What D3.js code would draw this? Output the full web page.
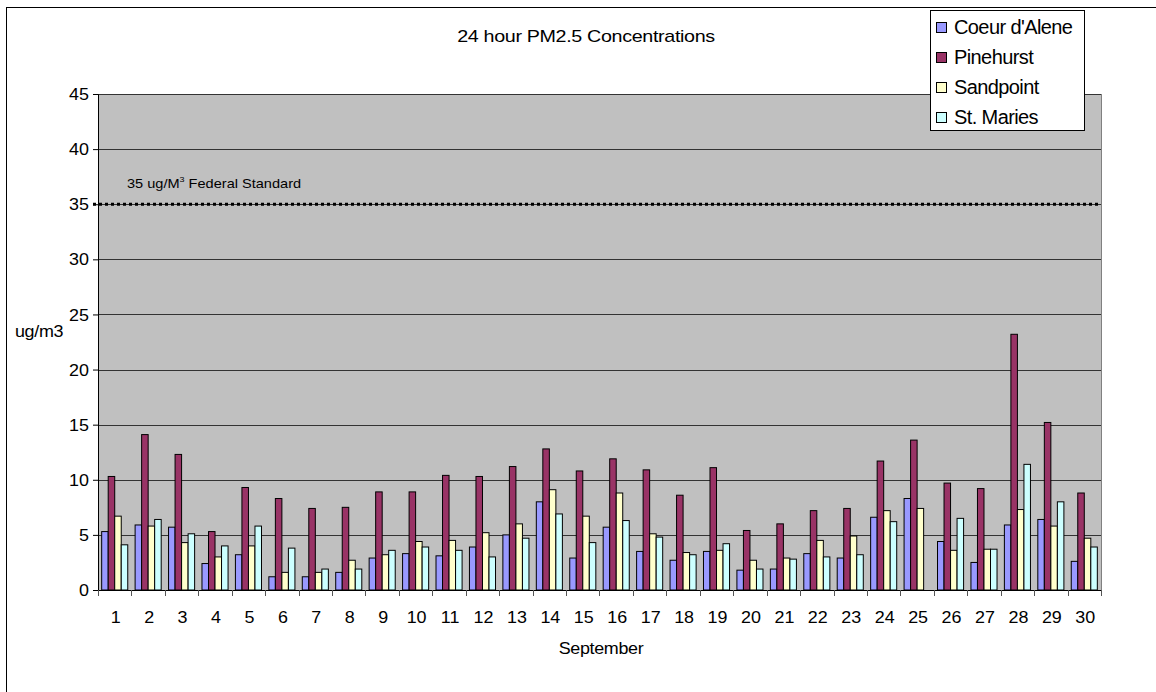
<!DOCTYPE html>
<html>
<head>
<meta charset="utf-8">
<script src="https://cdn.jsdelivr.net/npm/d3@7"></script>
<style>
  body { margin: 0; background: #fff; }
  svg { display: block; font-family: "Liberation Sans", Arial, sans-serif; }
</style>
</head>
<body>
<div id="chart"></div>
<script>
// categories (days of September)
var days = ["1","2","3","4","5","6","7","8","9","10","11","12","13","14","15",
            "16","17","18","19","20","21","22","23","24","25","26","27","28","29","30"];
var seriesNames = ["Coeur d'Alene", "Pinehurst", "Sandpoint", "St. Maries"];
var seriesColors = ["#9999FF", "#993366", "#FFFFCC", "#CCFFFF"];

// 24 hour PM2.5 values, ug/m3
var coeur = [5.3,5.9,5.7,2.4,3.2,1.2,1.2,1.6,2.9,3.3,3.1,3.9,5.0,8.0,2.9,
             5.7,3.5,2.7,3.5,1.8,1.9,3.3,2.9,6.6,8.3,4.4,2.5,5.9,6.4,2.6];
var pinehurst = [10.3,14.1,12.3,5.3,9.3,8.3,7.4,7.5,8.9,8.9,10.4,10.3,11.2,12.8,10.8,
                 11.9,10.9,8.6,11.1,5.4,6.0,7.2,7.4,11.7,13.6,9.7,9.2,23.2,15.2,8.8];
var sandpoint = [6.7,5.8,4.3,3.0,4.0,1.6,1.6,2.7,3.2,4.4,4.5,5.2,6.0,9.1,6.7,
                 8.8,5.1,3.4,3.6,2.7,2.9,4.5,4.9,7.2,7.4,3.6,3.7,7.3,5.8,4.7];
var stmaries = [4.1,6.4,5.1,4.0,5.8,3.8,1.9,1.9,3.6,3.9,3.6,3.0,4.7,6.9,4.3,
                6.3,4.8,3.2,4.2,1.9,2.8,3.0,3.2,6.2,null,6.5,3.7,11.4,8.0,3.9];
var yTicks = [0,5,10,15,20,25,30,35,40,45];
var standard = 35;

var allSeries = [coeur, pinehurst, sandpoint, stmaries];

var W = 1156, H = 692;
var plot = {left: 98, top: 94, right: 1101, bottom: 590};
var w = plot.right - plot.left, h = plot.bottom - plot.top;

var svg = d3.select("#chart").append("svg")
  .attr("width", W).attr("height", H);

// outer chart frame (runs off the picture on right/bottom)
svg.append("rect")
  .attr("x", 6.5).attr("y", 7.5).attr("width", 1200).attr("height", 800)
  .attr("fill", "#fff").attr("stroke", "#000").attr("stroke-width", 1);

var x0 = d3.scaleBand().domain(days).range([0, w]).paddingInner(0.22).paddingOuter(0.11);
var x1 = d3.scaleBand().domain(d3.range(seriesNames.length)).range([0, x0.bandwidth()]);
var y = d3.scaleLinear().domain([0, 45]).range([h, 0]);

var g = svg.append("g").attr("transform", "translate(" + plot.left + "," + plot.top + ")");

// plot area
g.append("rect").attr("width", w).attr("height", h).attr("fill", "#C0C0C0");

// gridlines
g.selectAll(".grid").data(yTicks.filter(function(d){ return d > 0; }))
  .enter().append("line")
  .attr("x1", 0).attr("x2", w)
  .attr("y1", function(d){ return Math.round(y(d)) + 0.5; })
  .attr("y2", function(d){ return Math.round(y(d)) + 0.5; })
  .attr("stroke", "#333").attr("stroke-width", 1);

// right border
g.append("line").attr("x1", w + 0.5).attr("x2", w + 0.5).attr("y1", 0).attr("y2", h)
  .attr("stroke", "#808080");

// bars
var groups = g.selectAll(".day").data(days).enter().append("g")
  .attr("transform", function(d){ return "translate(" + x0(d) + ",0)"; });

groups.selectAll("rect")
  .data(function(d, i){
    return allSeries.map(function(s, k){ return {k: k, v: s[i]}; })
      .filter(function(o){ return o.v != null; });
  })
  .enter().append("rect")
  .attr("x", function(d){ return x1(d.k); })
  .attr("width", x1.bandwidth())
  .attr("y", function(d){ return y(d.v); })
  .attr("height", function(d){ return h - y(d.v); })
  .attr("fill", function(d){ return seriesColors[d.k]; })
  .attr("stroke", "#000").attr("stroke-width", 1);

// federal standard line
g.append("line")
  .attr("x1", -5).attr("x2", w)
  .attr("y1", y(standard)).attr("y2", y(standard))
  .attr("stroke", "#000").attr("stroke-width", 3)
  .attr("stroke-dasharray", "3,3");

var stdLabel = g.append("text")
  .attr("transform", "translate(29," + (y(standard) - 16) + ") scale(1.12,1)")
  .attr("font-size", 13);
stdLabel.append("tspan").text("35 ug/M");
stdLabel.append("tspan").attr("font-size", 8).attr("dy", -6).text("3");
stdLabel.append("tspan").attr("dy", 6).text("  Federal Standard");

// y axis
var yAxis = d3.axisLeft(y).tickValues(yTicks).tickSize(5).tickPadding(4);
var ya = g.append("g").call(yAxis);
ya.select(".domain").attr("stroke", "#000");
ya.selectAll(".tick line").attr("stroke", "#000");
ya.selectAll(".tick text")
  .attr("font-size", 16).attr("font-family", "Liberation Sans, Arial, sans-serif")
  .attr("fill", "#000").attr("dy", "0.35em")
  .attr("transform", "scale(1.12,1)").attr("x", -9 / 1.12);

// x axis: ticks between categories
var xa = g.append("g").attr("transform", "translate(0," + h + ")");
xa.append("line").attr("x1", 0).attr("x2", w).attr("y1", 0.5).attr("y2", 0.5).attr("stroke", "#000");
var step = x0.step();
xa.selectAll(".xt").data(d3.range(days.length + 1)).enter().append("line")
  .attr("x1", function(i){ return Math.round(i * step) + 0.5; })
  .attr("x2", function(i){ return Math.round(i * step) + 0.5; })
  .attr("y1", 0).attr("y2", 6).attr("stroke", "#555");
xa.selectAll(".xl").data(days).enter().append("text")
  .attr("transform", function(d){ return "translate(" + (x0(d) + x0.bandwidth() / 2 + 1) + ",33) scale(1.12,1)"; })
  .attr("text-anchor", "middle").attr("font-size", 16).text(function(d){ return d; });

// titles
svg.append("text")
  .attr("transform", "translate(586,42) scale(1.16,1)")
  .attr("text-anchor", "middle").attr("font-size", 17).attr("letter-spacing", -0.3)
  .text("24 hour PM2.5 Concentrations");
svg.append("text")
  .attr("transform", "translate(601,654) scale(1.12,1)")
  .attr("text-anchor", "middle").attr("font-size", 16).attr("letter-spacing", -0.3)
  .text("September");
svg.append("text")
  .attr("transform", "translate(15,337) scale(1.12,1)")
  .attr("font-size", 16).attr("letter-spacing", -0.3)
  .text("ug/m3");

// legend
var leg = svg.append("g").attr("transform", "translate(930,10)");
leg.append("rect").attr("x", 0.5).attr("y", 0.5).attr("width", 154).attr("height", 120)
  .attr("fill", "#fff").attr("stroke", "#000");
var items = leg.selectAll(".li").data(seriesNames).enter().append("g")
  .attr("transform", function(d, i){ return "translate(0," + (17 + i * 30) + ")"; });
items.append("rect").attr("x", 6.5).attr("y", -4.5).attr("width", 10).attr("height", 10)
  .attr("fill", function(d, i){ return seriesColors[i]; }).attr("stroke", "#000");
items.append("text").attr("x", 24).attr("y", 7).attr("font-size", 20)
  .attr("letter-spacing", -0.6).text(function(d){ return d; });
</script>
</body>
</html>
